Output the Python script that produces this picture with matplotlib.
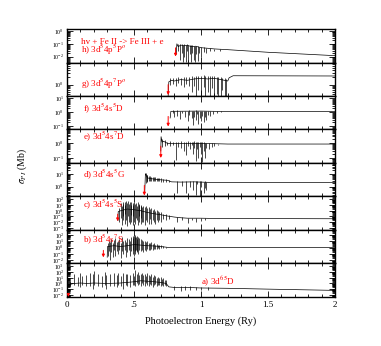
"""
Photoionization cross sections of Fe II leading to the ground and excited
states of Fe III, one stacked panel per target state.

Each panel is a smooth background curve plus narrow resonances, the
resonances drawn as thin vertical strokes from their low to high value.
"""
import numpy as np
import matplotlib
matplotlib.use('Agg')
import matplotlib.pyplot as plt
from matplotlib.ticker import (LogLocator, LogFormatterMathtext,
                               NullFormatter, MultipleLocator)


# --- panel h) 3d5 4p 5Po
bg_energy_h = [0.815, 0.82, 0.83, 0.85, 0.87, 0.90, 0.93, 0.96, 1.00, 1.05,
               1.10, 1.20, 1.50, 2.00]
bg_sigma_h = [0.015, 0.1, 0.06, 0.08, 0.07, 0.075, 0.06, 0.065, 0.05, 0.045,
              0.04, 0.035, 0.022, 0.012]
res_energy_h = [0.825, 0.84, 0.855, 0.865, 0.875, 0.885, 0.895, 0.905, 0.915, 0.925,
                0.935, 0.945, 0.955, 0.965, 0.975, 0.985, 1.00, 1.02, 1.04, 1.07,
                1.10, 1.14]
res_low_h = [0.03, 0.006, 0.02, 0.004, 0.01, 0.004, 0.03, 0.005, 0.015, 0.004,
             0.02, 0.006, 0.004, 0.015, 0.005, 0.02, 0.01, 0.025, 0.02, 0.03,
             0.028, 0.03]
res_high_h = [0.1, 0.09, 0.09, 0.08, 0.1, 0.08, 0.09, 0.085, 0.08, 0.075,
              0.08, 0.07, 0.07, 0.07, 0.065, 0.06, 0.06, 0.055, 0.05, 0.045,
              0.042, 0.038]

# --- panel g) 3d5 4p 7Po
bg_energy_g = [0.755, 0.76, 0.78, 0.80, 0.85, 0.90, 0.95, 1.00, 1.05, 1.10,
               1.15, 1.20, 1.21, 1.24, 2.00]
bg_sigma_g = [0.35, 1.3, 1.5, 1.4, 1.6, 1.5, 1.7, 1.8, 1.7, 1.8,
              1.6, 1.4, 1.9, 2.3, 2.25]
res_energy_g = [0.77, 0.79, 0.81, 0.83, 0.85, 0.87, 0.89, 0.91, 0.93, 0.95,
                0.96, 0.98, 1.00, 1.02, 1.03, 1.05, 1.07, 1.08, 1.10, 1.12,
                1.13, 1.15, 1.16, 1.18, 1.19]
res_low_g = [1.0, 1.1, 0.9, 1.2, 1.0, 0.8, 1.1, 0.9, 0.5, 0.9,
             0.35, 0.6, 0.35, 0.8, 0.35, 0.5, 0.35, 0.7, 0.35, 0.4,
             0.35, 0.35, 0.6, 0.35, 0.35]
res_high_g = [1.8, 1.9, 1.8, 2.0, 1.9, 2.0, 2.1, 2.0, 2.2, 2.1,
              2.2, 2.3, 2.2, 2.4, 2.2, 2.3, 2.2, 2.3, 2.2, 2.1,
              2.0, 2.1, 1.9, 1.8, 1.7]

# --- panel f) 3d5 4s 5D
bg_energy_f = [0.77, 0.775, 1.00, 1.20, 2.00]
bg_sigma_f = [0.4, 1.2, 1.25, 1.15, 1.15]
res_energy_f = [0.79, 0.80, 0.82, 0.84, 0.86, 0.88, 0.90, 0.91, 0.93, 0.94,
                0.95, 0.96, 0.97, 0.98, 0.99, 1.00, 1.01, 1.02, 1.03, 1.04,
                1.05, 1.07, 1.09, 1.12, 1.15]
res_low_f = [0.9, 0.5, 0.6, 0.35, 0.9, 0.5, 0.25, 0.7, 0.4, 0.12,
             0.5, 0.3, 0.8, 0.15, 0.4, 0.25, 0.6, 0.2, 0.5, 0.3,
             0.7, 0.6, 0.8, 0.9, 1.0]
res_high_f = [1.4, 1.3, 1.4, 1.3, 1.3, 1.35, 1.3, 1.4, 1.3, 1.35,
              1.3, 1.4, 1.3, 1.3, 1.35, 1.3, 1.3, 1.3, 1.25, 1.3,
              1.25, 1.25, 1.2, 1.2, 1.2]

# --- panel e) 3d5 4s 7D
bg_energy_e = [0.70, 0.702, 0.71, 0.72, 0.75, 0.80, 0.90, 1.00, 1.10, 1.20,
               2.00]
bg_sigma_e = [0.3, 2.9, 1.2, 1.4, 1.0, 1.0, 1.0, 1.0, 0.95, 0.9,
              0.9]
res_energy_e = [0.71, 0.73, 0.75, 0.77, 0.79, 0.81, 0.83, 0.85, 0.87, 0.89,
                0.90, 0.92, 0.93, 0.94, 0.95, 0.96, 0.97, 0.98, 0.99, 1.00,
                1.01, 1.02, 1.03, 1.04, 1.06, 1.08, 1.10, 1.13]
res_low_e = [0.6, 0.7, 0.8, 0.7, 0.8, 0.07, 0.6, 0.5, 0.3, 0.15,
             0.7, 0.4, 0.8, 0.2, 0.5, 0.06, 0.4, 0.1, 0.6, 0.2,
             0.05, 0.3, 0.1, 0.5, 0.4, 0.6, 0.7, 0.8]
res_high_e = [2.0, 1.6, 1.3, 1.4, 1.2, 1.3, 1.3, 1.4, 1.2, 1.3,
              1.4, 1.3, 1.2, 1.3, 1.4, 1.2, 1.3, 1.2, 1.3, 1.2,
              1.2, 1.15, 1.1, 1.1, 1.05, 1.0, 1.0, 0.95]

# --- panel d) 3d5 4s 5G
bg_energy_d = [0.58, 0.585, 0.60, 0.62, 0.65, 0.70, 0.75, 0.78, 0.85, 0.95,
               1.05, 1.20, 2.00]
bg_sigma_d = [0.3, 11, 5, 4.5, 4, 3.5, 3.2, 2.4, 2.3, 2.4,
              2.2, 2.1, 2.1]
res_energy_d = [0.59, 0.595, 0.60, 0.61, 0.62, 0.63, 0.64, 0.65, 0.66, 0.67,
                0.68, 0.69, 0.70, 0.72, 0.74, 0.76, 0.82, 0.86, 0.89, 0.92,
                0.94, 0.96, 0.97, 0.99, 1.00, 1.02, 1.03, 1.04]
res_low_d = [2, 3, 2.5, 3, 2.8, 3, 2.6, 3, 2.8, 3,
             2.6, 2.8, 2.5, 2.5, 2.4, 2.2, 0.3, 1.2, 0.3, 1.0,
             0.5, 0.2, 1.5, 0.17, 1.0, 0.3, 0.8, 0.5]
res_high_d = [12, 9, 8, 7, 6.5, 6, 6, 5.5, 5.5, 5,
              5, 4.5, 4.5, 4.2, 4, 3.6, 2.8, 2.6, 2.7, 2.6,
              2.7, 2.6, 2.6, 2.7, 2.6, 2.5, 2.6, 2.5]

# --- panel c) 3d5 4s 5S
bg_energy_c = [0.38, 0.382, 0.40, 0.45, 0.50, 0.55, 0.60, 0.65, 0.70, 0.75,
               0.80, 0.85, 0.90, 1.00, 1.10, 2.00]
bg_sigma_c = [0.02, 0.7, 1.0, 2, 1.5, 1.0, 0.5, 0.3, 0.2, 0.12,
              0.08, 0.06, 0.05, 0.05, 0.045, 0.04]
res_energy_c = [0.39, 0.40, 0.41, 0.415, 0.42, 0.43, 0.435, 0.44, 0.45, 0.455,
                0.46, 0.47, 0.475, 0.48, 0.49, 0.495, 0.50, 0.51, 0.515, 0.52,
                0.53, 0.535, 0.54, 0.55, 0.555, 0.56, 0.57, 0.58, 0.59, 0.60,
                0.61, 0.62, 0.63, 0.64, 0.65, 0.66, 0.67, 0.68, 0.69, 0.70,
                0.72, 0.74, 0.76, 0.82, 0.86, 0.90, 0.93, 0.96, 1.00, 1.03]
res_low_c = [0.01, 0.05, 0.003, 0.1, 0.02, 0.005, 0.3, 0.02, 0.002, 0.1,
             0.01, 0.005, 0.2, 0.01, 0.003, 0.1, 0.01, 0.005, 0.05, 0.02,
             0.003, 0.1, 0.01, 0.005, 0.05, 0.01, 0.01, 0.003, 0.02, 0.01,
             0.005, 0.03, 0.005, 0.02, 0.01, 0.005, 0.02, 0.01, 0.02, 0.01,
             0.03, 0.02, 0.04, 0.01, 0.02, 0.008, 0.02, 0.01, 0.015, 0.02]
res_high_c = [3, 20, 8, 40, 15, 30, 10, 50, 20, 60,
              15, 40, 10, 30, 25, 10, 40, 15, 20, 8,
              30, 10, 15, 6, 12, 5, 8, 4, 6, 3,
              5, 2, 3, 1.5, 2, 1, 1.2, 0.8, 0.7, 0.5,
              0.3, 0.25, 0.15, 0.09, 0.07, 0.06, 0.06, 0.055, 0.055, 0.05]

# --- panel b) 3d5 4s 7S
bg_energy_b = [0.30, 0.302, 0.35, 0.40, 0.45, 0.50, 0.55, 0.60, 0.65, 0.70,
               0.75, 0.80, 2.00]
bg_sigma_b = [0.03, 1.5, 2, 1.5, 2, 3, 2.5, 2, 1.8, 1.5,
              1.1, 1.0, 1.0]
res_energy_b = [0.305, 0.31, 0.32, 0.33, 0.34, 0.35, 0.36, 0.37, 0.38, 0.39,
                0.40, 0.41, 0.42, 0.43, 0.44, 0.45, 0.46, 0.47, 0.48, 0.49,
                0.495, 0.50, 0.505, 0.51, 0.515, 0.52, 0.525, 0.53, 0.54, 0.55,
                0.56, 0.57, 0.58, 0.59, 0.60, 0.61, 0.62, 0.63, 0.64, 0.65,
                0.66, 0.67, 0.68, 0.69, 0.70, 0.72, 0.74]
res_low_b = [0.05, 0.3, 0.01, 0.2, 0.03, 0.5, 0.05, 0.3, 0.1, 0.5,
             0.02, 0.3, 0.1, 0.5, 0.03, 0.2, 0.5, 0.05, 0.3, 0.1,
             0.5, 0.05, 0.3, 0.1, 0.5, 0.2, 0.3, 0.1, 0.5, 0.3,
             0.5, 0.2, 0.5, 0.3, 0.6, 0.4, 0.5, 0.6, 0.5, 0.7,
             0.6, 0.7, 0.8, 0.7, 0.8, 0.9, 0.9]
res_high_b = [5, 10, 8, 20, 5, 15, 30, 8, 10, 25,
              6, 40, 10, 15, 8, 30, 20, 10, 40, 60,
              30, 80, 50, 100, 40, 60, 20, 50, 30, 20,
              15, 10, 12, 8, 10, 6, 5, 8, 4, 5,
              3, 4, 3, 2.5, 2.5, 2, 1.5]

# --- panel a) 3d6 5D (ground state)
bg_energy_a = [0.00, 0.05, 0.10, 0.15, 0.20, 0.30, 0.40, 0.50, 0.55, 0.60,
               0.65, 0.70, 0.74, 0.76, 0.80, 0.85, 0.90, 1.00, 1.10, 1.20,
               1.50, 2.00]
bg_sigma_a = [0.5, 1.0, 1.2, 1.0, 1.2, 1.0, 1.2, 2, 3, 2.5,
              2, 1.5, 1.0, 0.25, 0.2, 0.18, 0.2, 0.16, 0.15, 0.14,
              0.1, 0.06]
res_energy_a = [0.02, 0.05, 0.08, 0.10, 0.11, 0.14, 0.17, 0.19, 0.20, 0.23,
                0.26, 0.28, 0.29, 0.32, 0.35, 0.37, 0.38, 0.40, 0.42, 0.44,
                0.45, 0.47, 0.49, 0.50, 0.51, 0.52, 0.53, 0.54, 0.55, 0.56,
                0.57, 0.58, 0.59, 0.60, 0.61, 0.62, 0.63, 0.64, 0.65, 0.66,
                0.67, 0.68, 0.69, 0.70, 0.71, 0.72, 0.73, 0.74, 0.80, 0.85,
                0.88, 0.92, 0.96, 1.00, 1.05]
res_low_a = [0.3, 0.5, 0.4, 0.2, 0.5, 0.3, 0.4, 0.1, 0.5, 0.3,
             0.2, 0.5, 0.1, 0.3, 0.4, 0.2, 0.5, 0.3, 0.1, 0.5,
             0.3, 0.2, 0.5, 0.5, 0.3, 1, 0.5, 0.8, 0.3, 1,
             0.5, 0.4, 1, 0.5, 0.3, 0.8, 0.5, 0.2, 0.5, 0.8,
             0.3, 0.5, 0.6, 0.3, 0.5, 0.4, 0.5, 0.3, 0.08, 0.05,
             0.08, 0.06, 0.08, 0.07, 0.08]
res_high_a = [3, 40, 15, 60, 20, 30, 80, 40, 150, 50,
              20, 100, 30, 40, 80, 30, 60, 20, 70, 40,
              50, 30, 60, 20, 250, 50, 100, 30, 40, 80,
              30, 50, 20, 60, 30, 25, 40, 15, 30, 20,
              10, 15, 8, 12, 6, 8, 5, 4, 0.4, 0.3,
              0.35, 0.3, 0.28, 0.25, 0.22]

# panels from top to bottom
bg_energies = [bg_energy_h, bg_energy_g, bg_energy_f, bg_energy_e,
               bg_energy_d, bg_energy_c, bg_energy_b, bg_energy_a]
bg_sigmas = [bg_sigma_h, bg_sigma_g, bg_sigma_f, bg_sigma_e,
             bg_sigma_d, bg_sigma_c, bg_sigma_b, bg_sigma_a]
res_energies = [res_energy_h, res_energy_g, res_energy_f, res_energy_e,
                res_energy_d, res_energy_c, res_energy_b, res_energy_a]
res_lows = [res_low_h, res_low_g, res_low_f, res_low_e,
            res_low_d, res_low_c, res_low_b, res_low_a]
res_highs = [res_high_h, res_high_g, res_high_f, res_high_e,
             res_high_d, res_high_c, res_high_b, res_high_a]
panel_labels = [r'h) 3d$^5$4p$^5$P$^o$', r'g) 3d$^5$4p$^7$P$^o$',
                r'f) 3d$^5$4s$^5$D', r'e) 3d$^5$4s$^7$D',
                r'd) 3d$^5$4s$^5$G', r'c) 3d$^5$4s$^5$S',
                r'b) 3d$^5$4s$^7$S', r'a) 3d$^6$$^5$D']
# ionization thresholds marked by the red arrows (Ry)
thresholds = [0.81, 0.755, 0.755, 0.70, 0.577, 0.378, 0.271, 0.01]
ylims = [(0.0035, 1.4), (0.34, 8), (0.06, 15), (0.045, 9),
         (0.16, 80), (4.5e-4, 316), (3.2e-3, 630), (4.3e-3, 3500)]
xtick_values = [0, 0.5, 1, 1.5, 2]
xtick_labels = ['0', '.5', '1', '1.5', '2']


def make_graph():
    """Draw the eight stacked cross-section panels and save out.png."""
    plt.rcParams['font.family'] = ['Liberation Serif', 'DejaVu Serif']
    plt.rcParams['mathtext.fontset'] = 'stix'

    fig, axes = plt.subplots(8, 1, sharex=True, figsize=(3.81, 3.46), dpi=100)
    fig.subplots_adjust(left=0.176, right=0.879, top=0.916, bottom=0.142,
                        hspace=0)

    # label / arrow placement in axes fraction, one per panel
    label_y = [0.37, 0.37, 0.64, 0.79, 0.68, 0.76, 0.71, 0.48]
    label_x = [0.052, 0.052, 0.06, 0.06, 0.06, 0.06, 0.06, 0.50]
    arrow_span = [(0.44, 0.18), (0.34, 0.03), (0.39, 0.09), (0.5, 0.15),
                  (0.33, 0.03), (0.47, 0.26), (0.39, 0.18), (0.1, 0.0)]

    for i, ax in enumerate(axes):
        ax.plot(bg_energies[i], bg_sigmas[i], color='black', lw=0.5)
        ax.vlines(res_energies[i], res_lows[i], res_highs[i],
                  color='black', lw=0.5)
        ax.set_yscale('log')
        ax.set_ylim(*ylims[i])
        ax.set_xlim(0, 2)

        ax.yaxis.set_major_locator(LogLocator(base=10, numticks=20))
        ax.yaxis.set_minor_locator(LogLocator(base=10, subs=np.arange(2, 10),
                                              numticks=20))
        ax.yaxis.set_major_formatter(LogFormatterMathtext())
        ax.yaxis.set_minor_formatter(NullFormatter())
        ax.xaxis.set_minor_locator(MultipleLocator(0.1))

        ax.tick_params(which='both', direction='in', top=True, right=True,
                       width=0.6)
        ax.tick_params(which='major', length=4)
        ax.tick_params(which='minor', length=2.2)
        ax.tick_params(axis='y', labelsize=4.2, pad=2)
        for side in ax.spines.values():
            side.set_linewidth(1.0)

        ax.text(label_x[i], label_y[i], panel_labels[i], color='red',
                fontsize=6.5, transform=ax.transAxes, va='center')

        # threshold arrow
        tail, tip = arrow_span[i]
        ax.annotate('', xy=(thresholds[i], tip), xytext=(thresholds[i], tail),
                    xycoords=('data', 'axes fraction'),
                    textcoords=('data', 'axes fraction'),
                    arrowprops=dict(arrowstyle='-|>', color='red', lw=0.7,
                                    mutation_scale=4, shrinkA=0, shrinkB=0))

    axes[0].text(0.052, 0.62, 'hv + Fe II -> Fe III + e', color='red',
                 fontsize=6.5, transform=axes[0].transAxes, va='center')

    axes[-1].set_xticks(xtick_values, labels=xtick_labels)
    axes[-1].tick_params(axis='x', labelsize=6.5, pad=3)
    axes[-1].set_xlabel('Photoelectron Energy (Ry)', fontsize=7.5, labelpad=5)

    fig.text(0.058, 0.52, r'$\sigma_{PI}$ (Mb)', rotation=90, fontsize=7,
             ha='center', va='center')

    fig.savefig('out.png', dpi=100)


if __name__ == '__main__':
    make_graph()
